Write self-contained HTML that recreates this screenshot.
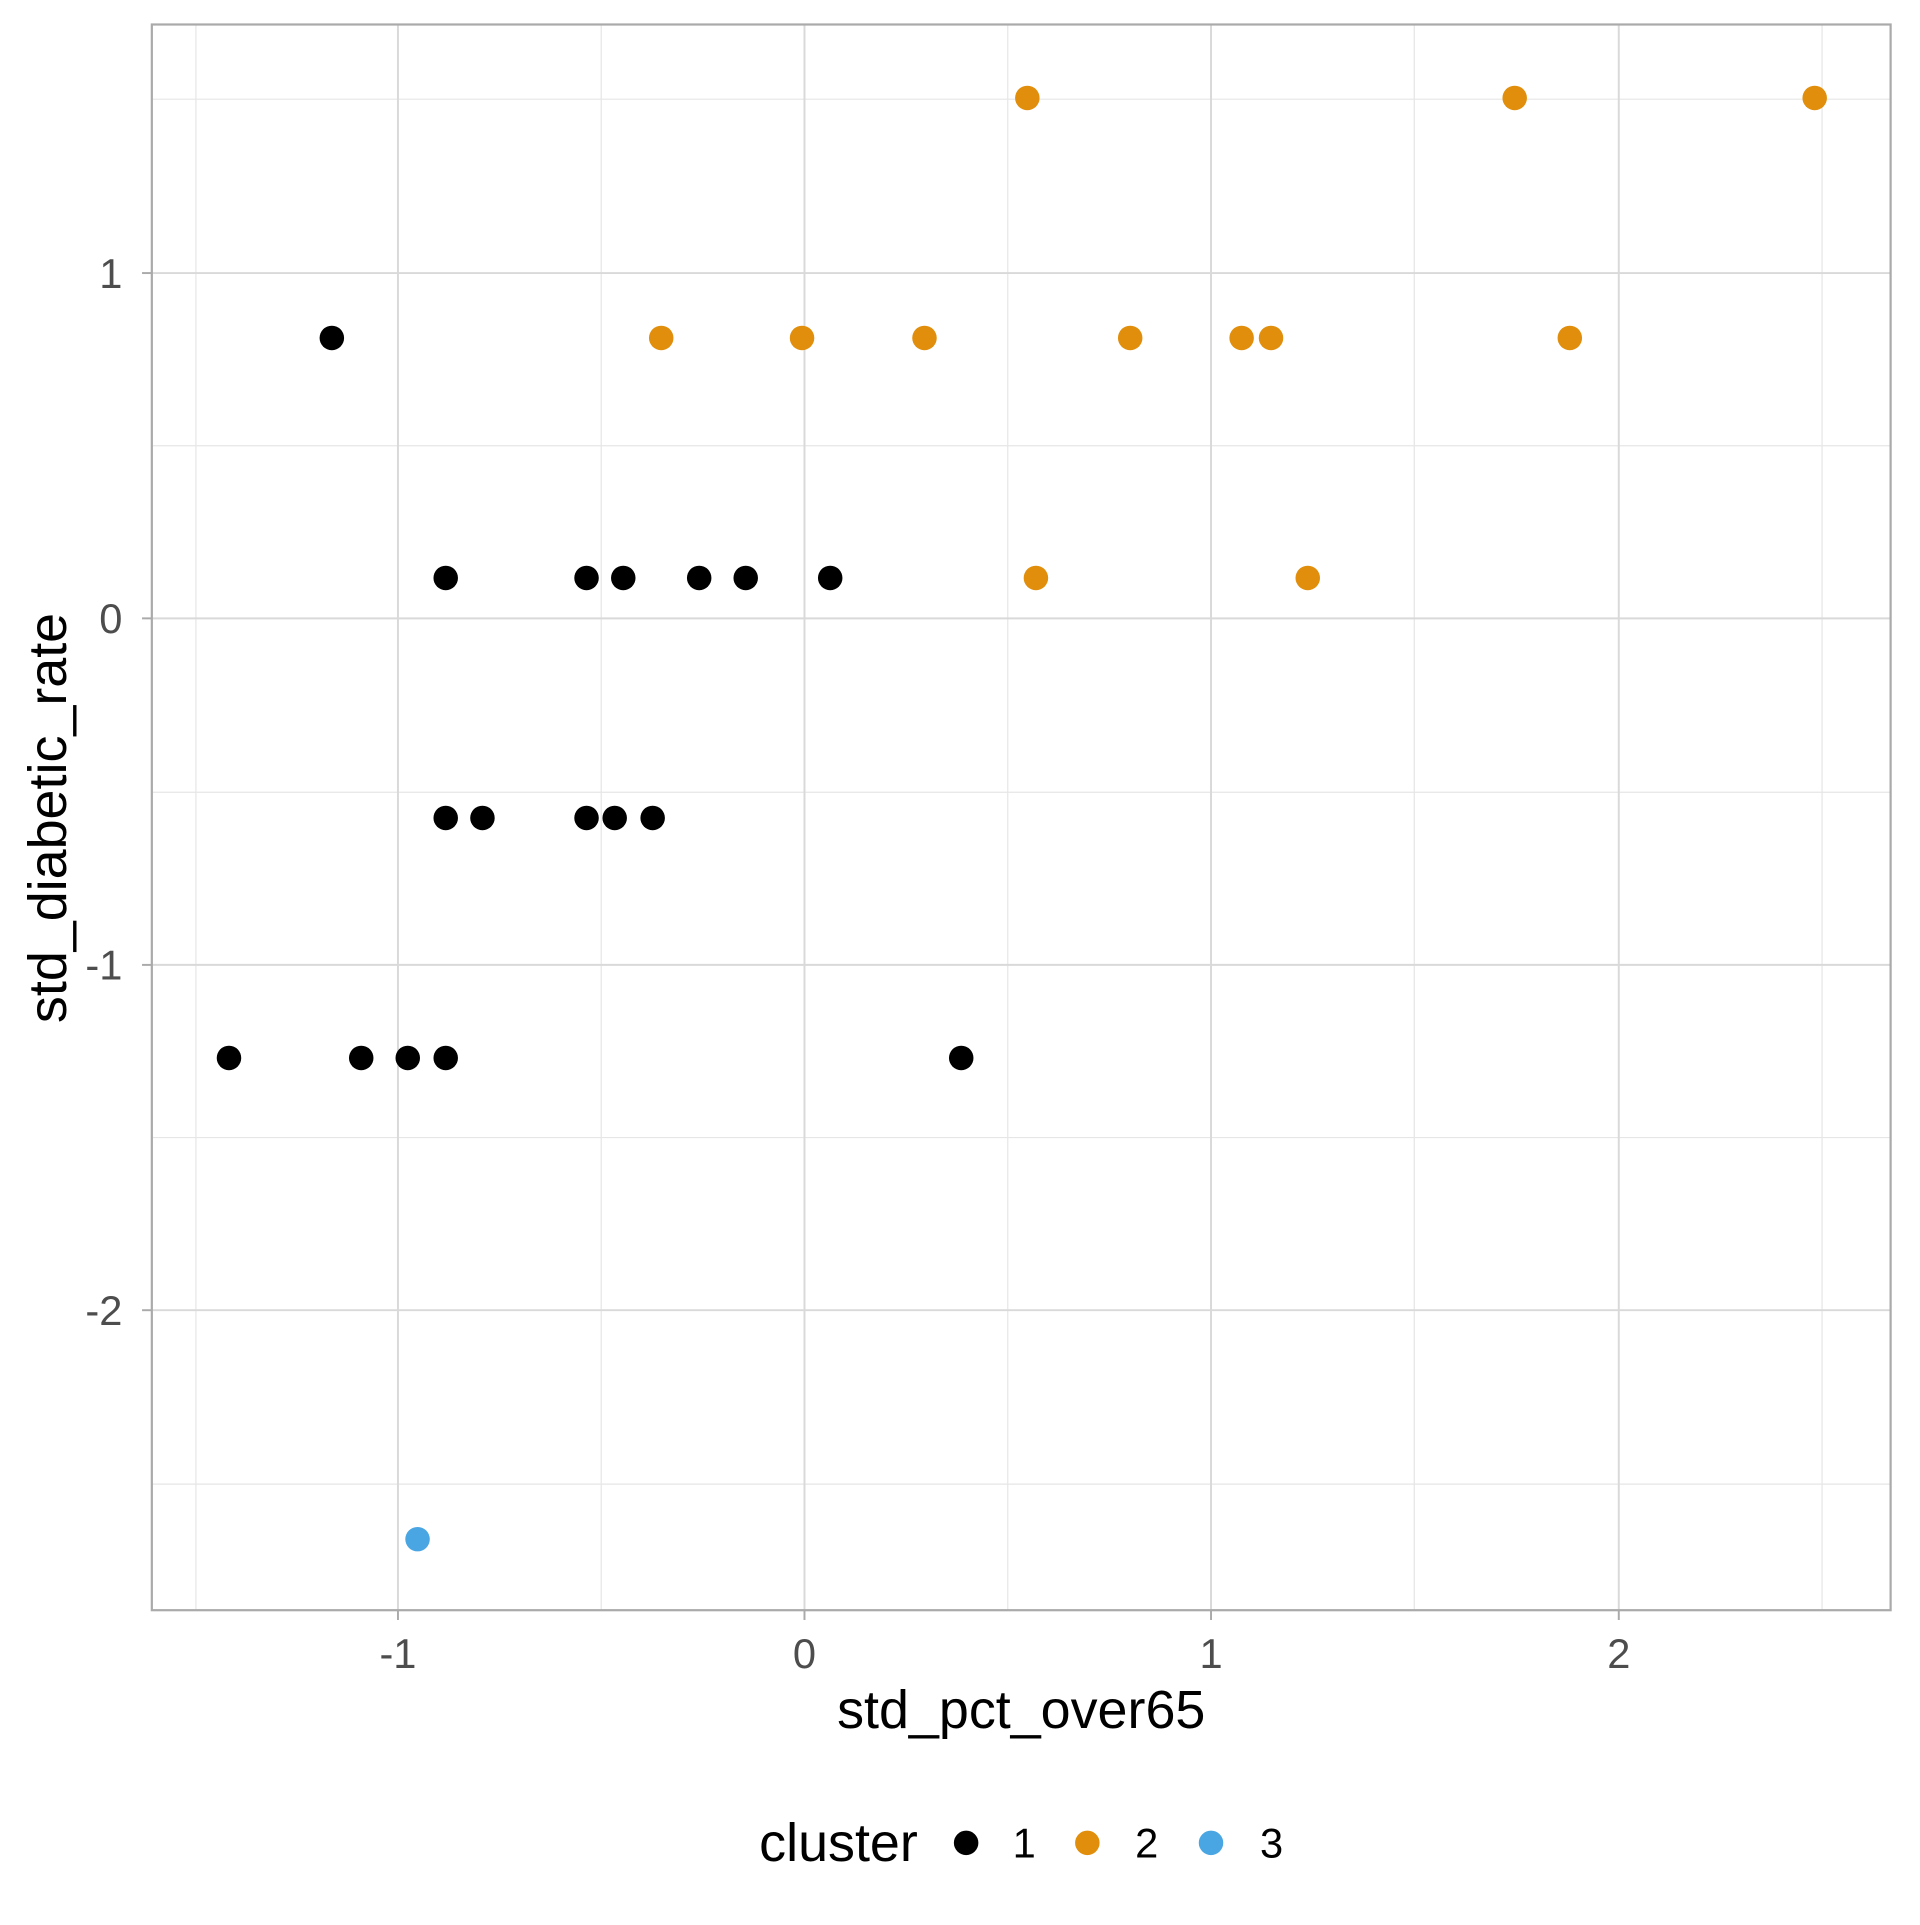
<!DOCTYPE html>
<html><head><style>html,body{margin:0;padding:0;background:#fff}</style></head>
<body>
<svg width="1920" height="1920" viewBox="0 0 1568 1568" xmlns="http://www.w3.org/2000/svg" font-family="Liberation Sans, Arial, sans-serif">
<rect width="1568" height="1568" fill="#fff"/>
<g stroke="#e6e6e6" stroke-width="1">
<line x1="160" y1="20" x2="160" y2="1315"/><line x1="491" y1="20" x2="491" y2="1315"/><line x1="823" y1="20" x2="823" y2="1315"/><line x1="1155" y1="20" x2="1155" y2="1315"/><line x1="1488" y1="20" x2="1488" y2="1315"/>
<line x1="124" y1="81" x2="1544" y2="81"/><line x1="124" y1="364" x2="1544" y2="364"/><line x1="124" y1="647" x2="1544" y2="647"/><line x1="124" y1="929" x2="1544" y2="929"/><line x1="124" y1="1212" x2="1544" y2="1212"/>
</g>
<g stroke="#d9d9d9" stroke-width="1.6">
<line x1="325" y1="20" x2="325" y2="1315"/><line x1="657" y1="20" x2="657" y2="1315"/><line x1="989" y1="20" x2="989" y2="1315"/><line x1="1322" y1="20" x2="1322" y2="1315"/>
<line x1="124" y1="223" x2="1544" y2="223"/><line x1="124" y1="505" x2="1544" y2="505"/><line x1="124" y1="788" x2="1544" y2="788"/><line x1="124" y1="1070" x2="1544" y2="1070"/>
</g>
<rect x="124" y="20" width="1420" height="1295" fill="none" stroke="#aaa" stroke-width="1.8"/>
<g stroke="#aaa" stroke-width="1.6">
<line x1="325" y1="1315" x2="325" y2="1323"/><line x1="657" y1="1315" x2="657" y2="1323"/><line x1="989" y1="1315" x2="989" y2="1323"/><line x1="1322" y1="1315" x2="1322" y2="1323"/>
<line x1="116" y1="223" x2="124" y2="223"/><line x1="116" y1="505" x2="124" y2="505"/><line x1="116" y1="788" x2="124" y2="788"/><line x1="116" y1="1070" x2="124" y2="1070"/>
</g>
<g fill="#4d4d4d" font-size="34">
<g text-anchor="end"><text x="100" y="235">1</text><text x="100" y="517">0</text><text x="100" y="800">-1</text><text x="100" y="1082">-2</text></g>
<g text-anchor="middle"><text x="325" y="1362">-1</text><text x="657" y="1362">0</text><text x="989" y="1362">1</text><text x="1322" y="1362">2</text></g>
</g>
<text x="834" y="1411" font-size="44" text-anchor="middle" fill="#000">std_pct_over65</text>
<text transform="translate(54,668) rotate(-90)" font-size="44" text-anchor="middle" fill="#000">std_diabetic_rate</text>
<g fill="#000">
<circle cx="271" cy="276" r="10"/><circle cx="187" cy="864" r="10"/><circle cx="295" cy="864" r="10"/><circle cx="333" cy="864" r="10"/><circle cx="364" cy="864" r="10"/><circle cx="785" cy="864" r="10"/>
<circle cx="364" cy="472" r="10"/><circle cx="479" cy="472" r="10"/><circle cx="509" cy="472" r="10"/><circle cx="571" cy="472" r="10"/><circle cx="609" cy="472" r="10"/><circle cx="678" cy="472" r="10"/>
<circle cx="364" cy="668" r="10"/><circle cx="394" cy="668" r="10"/><circle cx="479" cy="668" r="10"/><circle cx="502" cy="668" r="10"/><circle cx="533" cy="668" r="10"/>
</g>
<g fill="#E08E0B">
<circle cx="839" cy="80" r="10"/><circle cx="1237" cy="80" r="10"/><circle cx="1482" cy="80" r="10"/>
<circle cx="540" cy="276" r="10"/><circle cx="655" cy="276" r="10"/><circle cx="755" cy="276" r="10"/><circle cx="923" cy="276" r="10"/><circle cx="1014" cy="276" r="10"/><circle cx="1038" cy="276" r="10"/><circle cx="1282" cy="276" r="10"/>
<circle cx="846" cy="472" r="10"/><circle cx="1068" cy="472" r="10"/>
</g>
<circle cx="341" cy="1257" r="10" fill="#4AA6E2"/>
<text x="620" y="1520" font-size="44" fill="#000">cluster</text>
<circle cx="789" cy="1505" r="10" fill="#000"/><text x="827" y="1517" font-size="34">1</text>
<circle cx="888" cy="1505" r="10" fill="#E08E0B"/><text x="927" y="1517" font-size="34">2</text>
<circle cx="989" cy="1505" r="10" fill="#4AA6E2"/><text x="1029" y="1517" font-size="34">3</text>
</svg>
</body></html>
